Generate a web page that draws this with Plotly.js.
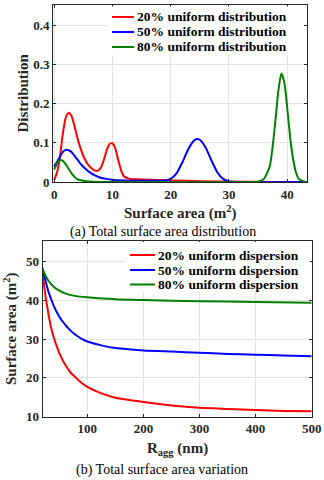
<!DOCTYPE html>
<html>
<head>
<meta charset="utf-8">
<script src="https://cdn.plot.ly/plotly-3.0.1.min.js"></script>
<style>
  html, body { margin: 0; padding: 0; background: #fff; }
  #chart { width: 324px; height: 480px; }
</style>
</head>
<body>
<div id="chart"></div>
<script>
// (a) distribution of total surface area
const DIST_LABELS = ["20% uniform distribution", "50% uniform distribution", "80% uniform distribution"];

const red_x = [0, 0.5, 1, 1.5, 2, 2.5, 3, 3.5, 4, 4.5, 5, 5.5, 6, 6.5, 7, 7.5, 8, 8.5, 9, 9.5, 10, 10.5, 11, 11.5, 12, 13, 14, 16, 18, 20, 25, 30, 35, 40, 43.5];
const red_y = [0.005, 0.025, 0.065, 0.125, 0.165, 0.177, 0.168, 0.142, 0.112, 0.087, 0.067, 0.052, 0.041, 0.034, 0.029, 0.029, 0.036, 0.055, 0.08, 0.097, 0.099, 0.085, 0.056, 0.029, 0.014, 0.008, 0.007, 0.006, 0.005, 0.004, 0.002, 0.001, 0.0005, 0, 0];

const blue_x = [0, 0.5, 1, 1.5, 2, 2.5, 3, 3.5, 4, 4.5, 5, 6, 7, 8, 9, 10, 12, 14, 16, 18, 19, 20, 21, 22, 23, 24, 24.5, 25, 26, 27, 28, 29, 30, 31, 43.5];
const blue_y = [0.04, 0.051, 0.065, 0.077, 0.082, 0.081, 0.076, 0.067, 0.057, 0.047, 0.039, 0.026, 0.017, 0.011, 0.008, 0.006, 0.004, 0.003, 0.003, 0.003, 0.004, 0.008, 0.022, 0.05, 0.083, 0.106, 0.11, 0.108, 0.088, 0.055, 0.025, 0.008, 0.002, 0, 0];

const green_x = [0, 0.5, 1, 1.5, 2, 2.5, 3, 3.5, 4, 5, 6, 8, 34, 35, 36, 37, 37.5, 38, 38.5, 39, 39.5, 40, 40.5, 41, 41.5, 42, 43, 43.5];
const green_y = [0.032, 0.047, 0.056, 0.054, 0.045, 0.033, 0.022, 0.013, 0.007, 0.003, 0.001, 0, 0, 0.001, 0.008, 0.04, 0.09, 0.16, 0.235, 0.277, 0.255, 0.19, 0.115, 0.06, 0.025, 0.008, 0.001, 0];

// (b) surface area vs aggregate radius
const DISP_LABELS = ["20% uniform dispersion", "50% uniform dispersion", "80% uniform dispersion"];

const ragg_red = [20, 22, 25, 30, 35, 40, 45, 50, 60, 70, 80, 90, 100, 125, 150, 200, 250, 300, 350, 400, 450, 500];
const area_red = [48.2, 45, 41.5, 37, 33.2, 30.5, 28.3, 26.4, 23.5, 21.4, 20, 18.7, 17.7, 16, 14.9, 13.8, 12.9, 12.3, 12, 11.7, 11.5, 11.4];

const ragg_blue = [20, 25, 30, 35, 40, 50, 60, 70, 80, 90, 100, 125, 150, 200, 250, 300, 350, 400, 450, 500];
const area_blue = [48.2, 45.3, 42.5, 40.5, 38.6, 35.8, 33.8, 32.2, 31, 30.1, 29.4, 28.4, 27.7, 27.1, 26.8, 26.5, 26.2, 26, 25.8, 25.6];

const ragg_green = [20, 25, 30, 40, 50, 60, 80, 100, 150, 200, 300, 400, 500];
const area_green = [48.2, 46.5, 45.2, 43.5, 42.5, 41.8, 41.1, 40.8, 40.3, 40.1, 39.8, 39.6, 39.4];

const COLORS = ["#ff0000", "#0000ff", "#008000"];
const W = 324, H = 480;
const SERIF = "Liberation Serif, Times New Roman, serif";

// pixel -> paper helpers
const px = x => x / W;
const py = y => 1 - y / H;

function curve(x, y, color, xa, ya) {
    return {
        x: x, y: y, xaxis: xa, yaxis: ya,
        type: "scatter", mode: "lines",
        line: { color: color, width: 2, shape: "spline", smoothing: 0.6 },
        hoverinfo: "skip", showlegend: false
    };
}

let data = [
    curve(red_x, red_y, COLORS[0], "x", "y"),
    curve(blue_x, blue_y, COLORS[1], "x", "y"),
    curve(green_x, green_y, COLORS[2], "x", "y"),
    curve(ragg_red, area_red, COLORS[0], "x2", "y2"),
    curve(ragg_blue, area_blue, COLORS[1], "x2", "y2"),
    curve(ragg_green, area_green, COLORS[2], "x2", "y2")
];

const axisStyle = {
    showline: true, linecolor: "#262626", linewidth: 1, mirror: "ticks",
    ticks: "inside", ticklen: 3, tickcolor: "#262626",
    showgrid: true, gridcolor: "#e3e3e3", zeroline: false,
    tickfont: { family: SERIF, size: 13, color: "#262626", weight: "bold" }
};

let shapes = [];
let annotations = [];

// hand-drawn legends (box, sample line, label)
function legend(x0, x1, y0, y1, lineX0, lineX1, textX, rows, labels) {
    shapes.push({ type: "rect", xref: "paper", yref: "paper", layer: "above",
        x0: px(x0), x1: px(x1), y0: py(y1), y1: py(y0),
        fillcolor: "#fff", line: { width: 0 } });
    labels.forEach((label, i) => {
        shapes.push({ type: "line", xref: "paper", yref: "paper", layer: "above",
            x0: px(lineX0), x1: px(lineX1), y0: py(rows[i]), y1: py(rows[i]),
            line: { color: COLORS[i], width: 2 } });
        annotations.push({ xref: "paper", yref: "paper", x: px(textX), y: py(rows[i]),
            xanchor: "left", yanchor: "middle", showarrow: false, text: label,
            font: { family: SERIF, size: 13.5, color: "#000", weight: "bold" } });
    });
}

legend(108, 304, 6.5, 55, 112, 134, 135, [17, 32, 47], DIST_LABELS);
legend(125, 310, 242, 292, 130, 155, 156, [255, 270, 284.5], DISP_LABELS);

function label(text, x, y, size, bold, angle) {
    annotations.push({ xref: "paper", yref: "paper", x: px(x), y: py(y),
        xanchor: "center", yanchor: "middle", showarrow: false, text: text,
        textangle: angle || 0,
        font: { family: SERIF, size: size, color: bold ? "#262626" : "#000", weight: bold ? "bold" : "normal" } });
}

label("Distribution", 22, 93.5, 15, true, -90);
label("Surface area (m<sup>2</sup>)", 180, 212, 15, true);
label("(a) Total surface area distribution", 162.5, 232, 14, false);
label("Surface area (m<sup>2</sup>)", 10, 329, 15, true, -90);
label("R<sub>agg</sub> (nm)", 177.5, 449, 15, true);
label("(b) Total surface area variation", 161.7, 470, 14, false);

let layout = {
    width: W, height: H,
    margin: { l: 0, r: 0, t: 0, b: 0 },
    paper_bgcolor: "#fff", plot_bgcolor: "#fff",
    showlegend: false,
    xaxis: Object.assign({}, axisStyle, { domain: [px(53), px(307)], range: [-0.2, 43.4], dtick: 10, tick0: 0, anchor: "y" }),
    yaxis: Object.assign({}, axisStyle, { domain: [py(182), py(5)], range: [0, 0.452], dtick: 0.1, tick0: 0, anchor: "x" }),
    xaxis2: Object.assign({}, axisStyle, { domain: [px(42.5), px(311.7)], range: [20, 500], dtick: 100, tick0: 0, anchor: "y2" }),
    yaxis2: Object.assign({}, axisStyle, { domain: [py(416.7), py(240.5)], range: [10, 55.45], dtick: 10, tick0: 0, anchor: "x2" }),
    shapes: shapes,
    annotations: annotations
};

Plotly.newPlot("chart", data, layout, { staticPlot: true, displayModeBar: false });
</script>
</body>
</html>
